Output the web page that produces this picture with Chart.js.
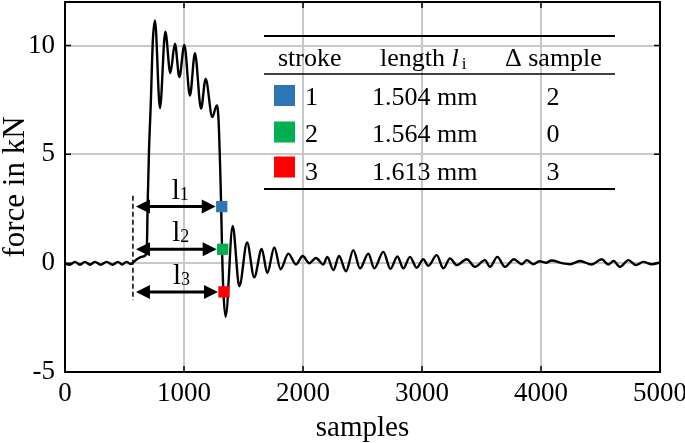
<!DOCTYPE html>
<html>
<head>
<meta charset="utf-8">
<title>force in kN over samples</title>
<script src="https://cdn.jsdelivr.net/npm/chart.js@4.4.1/dist/chart.umd.min.js"></script>
<style>
  html, body { margin: 0; padding: 0; background: #fff; }
  #wrap { width: 685px; height: 443px; }
</style>
</head>
<body>
<div id="wrap"><canvas id="forceChart" width="685" height="443"></canvas></div>
<script>
const samples = [0, 40, 84, 126, 168, 210, 252, 300, 350, 400, 445, 480, 518, 550, 575, 610, 650, 686, 695, 706,
  720, 738, 756, 798, 843, 885, 924, 961, 1003, 1050, 1092, 1143, 1182, 1238, 1275, 1291, 1311, 1320, 1331, 1350,
  1409, 1465, 1530, 1590, 1653, 1700, 1759, 1812, 1877, 1941, 1997, 2053, 2109, 2171, 2204, 2255, 2303, 2361, 2423, 2479,
  2549, 2599, 2675, 2735, 2793, 2843, 2899, 2955, 3011, 3053, 3124, 3180, 3235, 3292, 3376, 3445, 3529, 3571, 3633, 3697,
  3773, 3838, 3880, 3935, 3986, 4040, 4090, 4174, 4244, 4328, 4426, 4510, 4566, 4610, 4664, 4734, 4798, 4860, 4930, 5000];
const forces = [-0.02, -0.07, 0.06, -0.07, 0.06, -0.07, 0.06, -0.07, 0.06, -0.07, 0.06, -0.06, 0.06, -0.04, 0.05, 0.2, 0.3, 0.45, 2.8, 5.2,
  7.2, 10.2, 11.15, 7.12, 10.64, 8.73, 10.08, 8.55, 10.03, 7.7, 9.65, 7.1, 8.47, 6.71, 7.25, 6.5, 2.9, 0.6, -1.3, -2.46,
  1.71, -1.06, 0.95, -0.65, 0.65, -0.45, 0.72, -0.28, 0.44, -0.06, 0.33, 0.0, 0.24, -0.06, 0.29, -0.32, 0.33, -0.37, 0.6, -0.24,
  0.44, -0.24, 0.52, -0.26, 0.31, -0.24, 0.29, -0.21, 0.18, -0.12, 0.37, -0.24, 0.22, -0.09, 0.18, -0.17, 0.14, -0.17, 0.29, -0.17,
  0.18, -0.05, 0.14, -0.05, 0.09, 0.02, 0.12, 0.0, -0.05, 0.1, -0.06, 0.18, -0.06, 0.1, -0.17, 0.14, -0.09, 0.06, -0.05, 0.03];

const xTicks = [0, 1000, 2000, 3000, 4000, 5000];
const yTicks = [-5, 0, 5, 10];

// strokes
const strokeIds = ['1', '2', '3'];
const strokeEndSample = [1317, 1325, 1336];
const strokeForce = [2.6, 0.64, -1.32];
const strokeLength = ['1.504 mm', '1.564 mm', '1.613 mm'];
const strokeDelta = ['2', '0', '3'];
const strokeStart = 571;
const startLineForce = [3.1, -1.7];

const strokeColors = ['#2e75b6', '#00b050', '#ff0000'];
const serif = '"Liberation Serif", "Times New Roman", serif';

function drawArrow(ctx, x0, x1, yy) {
    const hl = 14, hw = 7;
    ctx.lineWidth = 3;
    ctx.beginPath();
    ctx.moveTo(x0 + hl - 2, yy);
    ctx.lineTo(x1 - hl + 2, yy);
    ctx.stroke();
    ctx.beginPath();
    ctx.moveTo(x0, yy); ctx.lineTo(x0 + hl, yy - hw); ctx.lineTo(x0 + hl, yy + hw); ctx.closePath();
    ctx.moveTo(x1, yy); ctx.lineTo(x1 - hl, yy - hw); ctx.lineTo(x1 - hl, yy + hw); ctx.closePath();
    ctx.fill();
}

const notesPlugin = {
    id: 'notes',
    afterDraw(chart) {
        const { ctx, chartArea: a, scales: { x, y } } = chart;
        ctx.save();
        ctx.strokeStyle = '#000';
        ctx.fillStyle = '#000';

        // box + inward ticks
        ctx.lineWidth = 2;
        ctx.strokeRect(a.left, a.top, a.right - a.left, a.bottom - a.top);
        ctx.lineWidth = 1.5;
        ctx.beginPath();
        xTicks.forEach(v => {
            const px = x.getPixelForValue(v);
            ctx.moveTo(px, a.bottom); ctx.lineTo(px, a.bottom - 6);
            ctx.moveTo(px, a.top); ctx.lineTo(px, a.top + 6);
        });
        yTicks.forEach(v => {
            const py = y.getPixelForValue(v);
            ctx.moveTo(a.left, py); ctx.lineTo(a.left + 6, py);
            ctx.moveTo(a.right, py); ctx.lineTo(a.right - 6, py);
        });
        ctx.stroke();

        // dashed start line
        const xs = x.getPixelForValue(strokeStart);
        ctx.lineWidth = 1.5;
        ctx.setLineDash([5, 3]);
        ctx.beginPath();
        ctx.moveTo(xs, y.getPixelForValue(startLineForce[0]));
        ctx.lineTo(xs, y.getPixelForValue(startLineForce[1]));
        ctx.stroke();
        ctx.setLineDash([]);

        // length arrows
        strokeIds.forEach((id, i) => {
            const yy = y.getPixelForValue(strokeForce[i]);
            const x0 = xs + 3;
            const x1 = x.getPixelForValue(strokeEndSample[i]) - 6;
            drawArrow(ctx, x0, x1, yy);
            const mid = (x0 + x1) / 2;
            ctx.font = '29px ' + serif;
            ctx.textAlign = 'center';
            ctx.textBaseline = 'alphabetic';
            ctx.fillText('l', mid, yy - 8);
            ctx.font = '18px ' + serif;
            ctx.textAlign = 'left';
            ctx.fillText(id, mid + 4, yy - 7);
        });

        // table
        const tl = 264, tr = 615;
        ctx.lineWidth = 2;
        ctx.beginPath();
        ctx.moveTo(tl, 36); ctx.lineTo(tr, 36);
        ctx.moveTo(tl, 189); ctx.lineTo(tr, 189);
        ctx.stroke();
        ctx.lineWidth = 1.5;
        ctx.beginPath();
        ctx.moveTo(tl, 74); ctx.lineTo(tr, 74);
        ctx.stroke();

        ctx.textAlign = 'left';
        ctx.textBaseline = 'alphabetic';
        ctx.font = '26px ' + serif;
        ctx.fillText('stroke', 278, 66);
        ctx.fillText('length ', 380, 66);
        const lw = ctx.measureText('length ').width;
        ctx.font = 'italic 26px ' + serif;
        ctx.fillText('l', 380 + lw, 66);
        const liw = ctx.measureText('l').width;
        ctx.font = '17px ' + serif;
        ctx.fillText('i', 380 + lw + liw + 3, 69);
        ctx.font = '26px ' + serif;
        ctx.fillText('\u0394 sample', 505, 66);

        const baselines = [105, 142, 180];
        const squareMid = [95.5, 132, 167];
        strokeIds.forEach((id, i) => {
            ctx.fillStyle = strokeColors[i];
            ctx.fillRect(274, squareMid[i] - 10.5, 21, 21);
            ctx.fillStyle = '#000';
            ctx.textAlign = 'left';
            ctx.fillText(id, 305, baselines[i]);
            ctx.fillText(strokeLength[i], 372, baselines[i]);
            ctx.textAlign = 'center';
            ctx.fillText(strokeDelta[i], 553, baselines[i]);
        });
        ctx.restore();
    }
};

const markerSets = strokeIds.map((id, i) => ({
    label: 'stroke ' + id,
    data: [{ x: strokeEndSample[i], y: strokeForce[i] }],
    showLine: false,
    pointStyle: 'rect',
    pointRadius: 8,
    pointHoverRadius: 8,
    pointBorderWidth: 0,
    pointBackgroundColor: strokeColors[i],
    pointBorderColor: strokeColors[i],
    order: 0
}));

new Chart(document.getElementById('forceChart'), {
    type: 'line',
    data: {
        datasets: [
            ...markerSets,
            {
                label: 'force',
                data: samples.map((s, i) => ({ x: s, y: forces[i] })),
                borderColor: '#000',
                borderWidth: 2.4,
                pointRadius: 0,
                cubicInterpolationMode: 'monotone',
                fill: false,
                order: 1
            }
        ]
    },
    options: {
        responsive: false,
        devicePixelRatio: 1,
        animation: false,
        layout: { autoPadding: false, padding: { left: 0, right: 25, top: 2, bottom: 0 } },
        plugins: { legend: { display: false }, tooltip: { enabled: false } },
        scales: {
            x: {
                type: 'linear',
                min: 0,
                max: 5000,
                afterBuildTicks: s => { s.ticks = xTicks.map(v => ({ value: v })); },
                afterFit: s => { s.height = 71; s.paddingLeft = 0; s.paddingRight = 0; },
                ticks: { color: '#000', font: { family: serif, size: 27 }, padding: 6, maxRotation: 0, callback: v => String(v) },
                grid: { color: '#c8c8c8', lineWidth: 2, drawTicks: false },
                border: { display: false },
                title: { display: true, text: 'samples', color: '#000', font: { family: serif, size: 29, lineHeight: 1 }, padding: { top: 0, bottom: 0 } }
            },
            y: {
                type: 'linear',
                min: -5,
                max: 12,
                afterBuildTicks: s => { s.ticks = yTicks.map(v => ({ value: v })); },
                afterFit: s => { s.width = 65; s.paddingTop = 0; s.paddingBottom = 0; },
                ticks: { color: '#000', font: { family: serif, size: 27 }, padding: 10, callback: v => String(v) },
                grid: { color: '#c8c8c8', lineWidth: 2, drawTicks: false },
                border: { display: false },
                title: { display: true, text: 'force in kN', color: '#000', font: { family: serif, size: 31, lineHeight: 1 }, padding: 0 }
            }
        }
    },
    plugins: [notesPlugin]
});
</script>
</body>
</html>
